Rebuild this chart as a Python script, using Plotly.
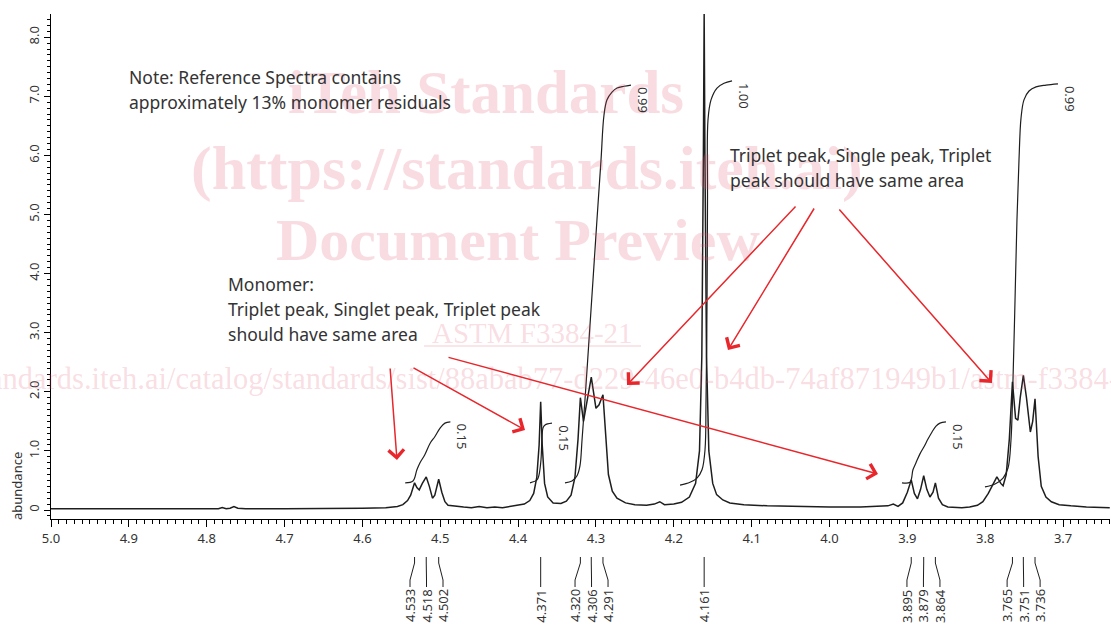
import plotly.graph_objects as go

# ---------------- data ----------------
ppm = [5.000, 4.950, 4.900, 4.850, 4.800, 4.785, 4.780, 4.775, 4.770, 4.765, 4.760, 4.750,
       4.700, 4.650, 4.600, 4.570, 4.555, 4.548, 4.542, 4.538, 4.535, 4.533, 4.530, 4.527,
       4.523, 4.518, 4.514, 4.510, 4.507, 4.502, 4.498, 4.494, 4.490, 4.480, 4.470, 4.460,
       4.450, 4.440, 4.430, 4.420, 4.410, 4.400, 4.392, 4.385, 4.380, 4.376, 4.373, 4.371,
       4.369, 4.366, 4.362, 4.355, 4.345, 4.338, 4.332, 4.327, 4.323, 4.320, 4.316, 4.312,
       4.306, 4.300, 4.296, 4.291, 4.287, 4.284, 4.279, 4.273, 4.262, 4.250, 4.235, 4.225,
       4.218, 4.212, 4.200, 4.190, 4.180, 4.172, 4.167, 4.164, 4.162, 4.161, 4.160, 4.158,
       4.155, 4.150, 4.145, 4.137, 4.128, 4.110, 4.080, 4.050, 4.000, 3.960, 3.935, 3.925,
       3.918, 3.912, 3.906, 3.900, 3.895, 3.891, 3.887, 3.883, 3.879, 3.875, 3.871, 3.867,
       3.864, 3.860, 3.855, 3.848, 3.830, 3.820, 3.810, 3.803, 3.796, 3.791, 3.785, 3.780,
       3.777, 3.773, 3.769, 3.765, 3.761, 3.758, 3.755, 3.751, 3.747, 3.742, 3.739, 3.736,
       3.732, 3.728, 3.722, 3.715, 3.705, 3.690, 3.670, 3.640]
abundance = [0.02, 0.02, 0.01, 0.01, 0.01, 0.02, 0.04, 0.02, 0.03, 0.06, 0.03, 0.02,
             0.02, 0.02, 0.03, 0.04, 0.06, 0.09, 0.16, 0.25, 0.38, 0.46, 0.38, 0.34,
             0.45, 0.56, 0.40, 0.20, 0.25, 0.52, 0.30, 0.14, 0.08, 0.06, 0.05, 0.04,
             0.06, 0.04, 0.05, 0.04, 0.06, 0.08, 0.10, 0.16, 0.28, 0.55, 1.10, 1.83,
             1.10, 0.45, 0.22, 0.12, 0.11, 0.15, 0.25, 0.55, 1.20, 1.90, 1.50, 1.80,
             2.25, 1.72, 1.78, 1.95, 1.20, 0.60, 0.32, 0.20, 0.12, 0.09, 0.08, 0.10,
             0.14, 0.09, 0.10, 0.13, 0.22, 0.45, 1.00, 2.60, 6.00, 8.40, 6.00, 2.60,
             1.00, 0.45, 0.26, 0.17, 0.12, 0.09, 0.07, 0.06, 0.05, 0.05, 0.06, 0.07,
             0.10, 0.06, 0.12, 0.30, 0.51, 0.28, 0.19, 0.35, 0.58, 0.35, 0.22, 0.30,
             0.46, 0.20, 0.09, 0.05, 0.04, 0.05, 0.08, 0.14, 0.28, 0.42, 0.56, 0.45,
             0.41, 0.60, 1.20, 2.17, 1.55, 1.52, 1.90, 2.28, 1.90, 1.32, 1.50, 1.88,
             0.90, 0.40, 0.22, 0.14, 0.09, 0.07, 0.05, 0.04]

# integral curves (ppm, integral trace height)
int1_ppm = [4.545, 4.535, 4.530, 4.526, 4.520, 4.513, 4.507, 4.500, 4.494, 4.487]
int1_val = [0.46, 0.49, 0.68, 0.80, 0.93, 1.13, 1.24, 1.39, 1.47, 1.49]
int2_ppm = [4.3847, 4.3757, 4.3732, 4.3706, 4.3693, 4.3680, 4.3654, 4.3565]
int2_val = [0.46, 0.51, 0.59, 0.85, 1.24, 1.39, 1.44, 1.47]
int3_ppm = [4.3398, 4.3308, 4.3243, 4.3205, 4.3179, 4.3141, 4.3089, 4.3038, 4.2987,
            4.2935, 4.2897, 4.2858, 4.2794, 4.2729, 4.2640, 4.2550]
int3_val = [0.46, 0.49, 0.58, 0.75, 1.18, 1.86, 2.88, 3.89, 4.91, 5.92, 6.68, 6.94,
            7.07, 7.14, 7.17, 7.19]
int4_ppm = [4.1920, 4.1792, 4.1702, 4.1638, 4.1599, 4.1586, 4.1573, 4.1567, 4.1561,
            4.1522, 4.1445, 4.1355, 4.1252]
int4_val = [0.42, 0.47, 0.54, 0.68, 1.02, 1.86, 3.55, 5.25, 6.60, 6.94, 7.14, 7.22, 7.26]
int5_ppm = [3.9069, 3.8966, 3.8928, 3.8889, 3.8838, 3.8786, 3.8735, 3.8683, 3.8632,
            3.8581, 3.8504]
int5_val = [0.46, 0.47, 0.68, 0.80, 0.95, 1.07, 1.20, 1.32, 1.42, 1.47, 1.49]
int6_ppm = [3.8003, 3.7874, 3.7771, 3.7707, 3.7669, 3.7643, 3.7617, 3.7592, 3.7566,
            3.7540, 3.7502, 3.7437, 3.7347, 3.7219, 3.7065]
int6_val = [0.39, 0.44, 0.54, 0.71, 1.18, 2.20, 3.55, 4.91, 5.92, 6.63, 6.94, 7.09,
            7.16, 7.19, 7.21]
int_labels = ["0.15", "0.15", "0.99", "1.00", "0.15", "0.99"]

# peak pick list
peak_shifts = [4.533, 4.518, 4.502, 4.371, 4.320, 4.306, 4.291, 4.161,
               3.895, 3.879, 3.864, 3.765, 3.751, 3.736]
peak_group = [0, 0, 0, 1, 2, 2, 2, 3, 4, 4, 4, 5, 5, 5]

x_ticks = [5.0, 4.9, 4.8, 4.7, 4.6, 4.5, 4.4, 4.3, 4.2, 4.1, 4.0, 3.9, 3.8, 3.7]
x_ticktext = ["5.0", "4.9", "4.8", "4.7", "4.6", "4.5", "4.4", "4.3", "4.2", "4.1",
              "4.0", "3.9", "3.8", "3.7"]
y_ticks = [0, 1, 2, 3, 4, 5, 6, 7, 8]
y_ticktext = ["0", "1.0", "2.0", "3.0", "4.0", "5.0", "6.0", "7.0", "8.0"]

# ---------------- layout helpers ----------------
W, H = 1111, 625
ML, MR, MT, MB = 51, 1, 14, 106
PW, PH = W - ML - MR, H - MT - MB
X_RANGE = [5.0, 5.0 - PW / 778.5]
Y_RANGE = [-(519 - 510) / 59.1, (510 - 14) / 59.1]


def px(x):
    return (x - ML) / PW


def py(y):
    return (H - MB - y) / PH


FONT = "Noto Sans"
TXT = "#333333"
LINE = "#1e1e1e"
RED = "#e8262b"

fig = go.Figure()
fig.add_trace(go.Scatter(x=ppm, y=abundance, mode="lines",
                         line=dict(color=LINE, width=1.5), hoverinfo="skip"))
integrals = [(int1_ppm, int1_val), (int2_ppm, int2_val), (int3_ppm, int3_val),
             (int4_ppm, int4_val), (int5_ppm, int5_val), (int6_ppm, int6_val)]
for xs, ys in integrals:
    fig.add_trace(go.Scatter(x=xs, y=ys, mode="lines", line=dict(color=LINE, width=1.2),
                             hoverinfo="skip", line_shape="spline"))

ann = []
shapes = []


def label(text, x, y, size, color, family=FONT, xanchor="center", yanchor="middle", angle=0):
    ann.append(dict(text=text, x=px(x), y=py(y), xref="paper", yref="paper",
                    xanchor=xanchor, yanchor=yanchor, textangle=angle, showarrow=False,
                    font=dict(family=family, size=size, color=color)))


# watermark
WM = "rgba(225,80,110,0.2)"
SERIF = "Liberation Serif"
label("<b>iTeh Standards</b>", 486, 92, 61, WM, SERIF)
label("<b>(https://standards.iteh.ai)</b>", 527, 168, 62, WM, SERIF)
label("<b>Document Preview</b>", 518, 240, 60, WM, SERIF)
label("ASTM F3384-21", 532, 333, 29, WM, SERIF)
shapes.append(dict(type="line", xref="paper", yref="paper", x0=px(424), x1=px(641),
                   y0=py(346), y1=py(346), line=dict(color=WM, width=1.5)))
label("https://standards.iteh.ai/catalog/standards/sist/88abab77-d229-46e0-b4db-74af871949b1/astm-f3384-21",
      -118, 379, 30.5, WM, SERIF, xanchor="left")

# notes
notes = [("Note: Reference Spectra contains", 127, 77),
         ("approximately 13% monomer residuals", 127, 102),
         ("Triplet peak, Single peak, Triplet", 728, 155),
         ("peak should have same area", 728, 180),
         ("Monomer:", 226, 284),
         ("Triplet peak, Singlet peak, Triplet peak", 226, 309),
         ("should have same area", 226, 334)]
for t, x0, y0 in notes:
    label(t, x0, y0, 17.5, TXT, xanchor="left")

# red arrows (head ppm/abundance, tail ppm/abundance)
arrows = [(4.5556, 0.846, 4.5645, 2.42), (4.3911, 1.354, 4.5363, 2.42),
          (3.9377, 0.609, 4.4913, 2.589), (4.2601, 2.115, 4.0418, 5.161),
          (4.1304, 2.707, 4.0186, 5.127), (3.7913, 2.149, 3.9891, 5.110)]
for hx, hy, tx, ty in arrows:
    ann.append(dict(x=hx, y=hy, ax=tx, ay=ty, xref="x", yref="y", axref="x", ayref="y",
                    text="", showarrow=True, arrowhead=4, arrowsize=2.0, arrowwidth=1.5,
                    arrowcolor=RED, standoff=0, startstandoff=0))

# integral value labels
for (xs, ys), lab in zip(integrals, int_labels):
    ann.append(dict(text=lab, x=xs[-1], y=ys[-1], xref="x", yref="y", xshift=12, yshift=-15,
                    xanchor="center", yanchor="middle", textangle=90, showarrow=False,
                    font=dict(family=FONT, size=13, color=TXT)))

# peak pick labels with connectors
SP = 16.5 / 778.5
groups = {}
for s, g in zip(peak_shifts, peak_group):
    groups.setdefault(g, []).append(s)
for g, shifts in groups.items():
    n = len(shifts)
    mid = sum(shifts) / n
    for i, s in enumerate(shifts):
        lx = mid + (((n - 1) / 2) - i) * SP
        path = (f"M {s},{py(557)} L {s},{py(563)} L {lx},{py(580)} L {lx},{py(587)}")
        shapes.append(dict(type="path", xref="x", yref="paper", path=path,
                           line=dict(color=LINE, width=1)))
        ann.append(dict(text=f"{s:.3f}", x=lx, y=py(606), xref="x", yref="paper",
                        textangle=-90, showarrow=False, xanchor="center", yanchor="middle",
                        font=dict(family=FONT, size=13, color=TXT)))

# y axis title
label("abundance", 17, 486, 13, TXT, angle=-90)

fig.update_layout(
    width=W, height=H, margin=dict(l=ML, r=MR, t=MT, b=MB, pad=0, autoexpand=False),
    paper_bgcolor="white", plot_bgcolor="white", showlegend=False,
    annotations=ann, shapes=shapes,
    xaxis=dict(range=X_RANGE, showline=True, linecolor="black", linewidth=1,
               ticks="outside", ticklen=7, tickcolor="black", tickvals=x_ticks,
               ticktext=x_ticktext, tickfont=dict(family=FONT, size=13, color=TXT),
               showgrid=False, zeroline=False, automargin=False,
               minor=dict(dtick=0.01, tick0=5.0, ticks="outside", ticklen=4,
                          tickcolor="black", showgrid=False)),
    yaxis=dict(range=Y_RANGE, showline=True, linecolor="black", linewidth=1,
               ticks="outside", ticklen=6, tickcolor="black", tickvals=y_ticks,
               ticktext=y_ticktext, tickangle=-90, automargin=False,
               tickfont=dict(family=FONT, size=13, color=TXT),
               showgrid=False, zeroline=False,
               minor=dict(dtick=0.1, tick0=0, ticks="outside", ticklen=3,
                          tickcolor="black", showgrid=False)),
)

fig.write_html("out.html", config={"displayModeBar": False},
               post_script="document.body.style.margin='0px';document.body.style.overflow='hidden';")
